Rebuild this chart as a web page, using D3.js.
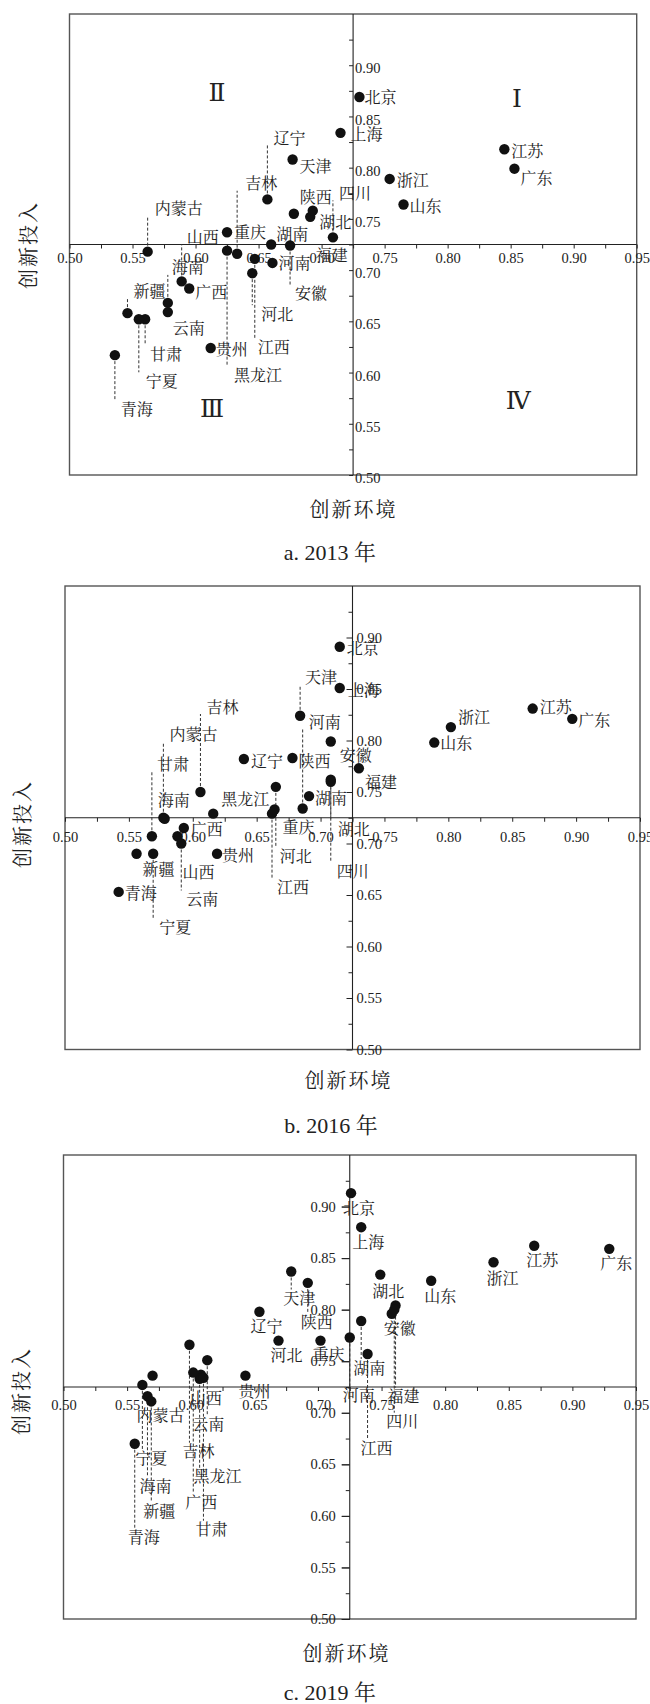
<!DOCTYPE html>
<html><head><meta charset="utf-8">
<script src="https://cdn.jsdelivr.net/npm/d3@7"></script>
<style>body{margin:0;background:#fff;}</style>
</head><body>
<svg id="chart" width="650" height="1704"></svg>
<script>
// ---------------- data ----------------
const provinces = ["北京","天津","河北","山西","内蒙古","辽宁","吉林","黑龙江","上海","江苏","浙江","安徽","福建","江西","山东","河南","湖北","湖南","广东","广西","海南","重庆","四川","贵州","云南","陕西","甘肃","青海","宁夏","新疆"];

const env2013 = [0.730,0.677,0.645,0.589,0.562,0.657,0.633,0.625,0.715,0.845,0.754,0.675,0.678,0.647,0.765,0.661,0.691,0.660,0.853,0.595,0.578,0.625,0.709,0.612,0.578,0.693,0.560,0.536,0.555,0.546];
const inp2013 = [0.869,0.808,0.697,0.689,0.718,0.769,0.716,0.719,0.834,0.818,0.789,0.724,0.755,0.711,0.764,0.707,0.752,0.725,0.799,0.682,0.668,0.737,0.732,0.624,0.659,0.758,0.652,0.617,0.652,0.658];

const env2016 = [0.715,0.684,0.665,0.588,0.577,0.640,0.606,0.616,0.715,0.866,0.802,0.708,0.730,0.662,0.789,0.686,0.708,0.691,0.897,0.593,0.578,0.664,0.708,0.619,0.591,0.678,0.568,0.542,0.569,0.556];
const inp2016 = [0.891,0.824,0.755,0.707,0.725,0.782,0.750,0.729,0.851,0.831,0.813,0.799,0.773,0.729,0.798,0.734,0.762,0.746,0.821,0.715,0.724,0.733,0.760,0.690,0.700,0.783,0.707,0.653,0.690,0.690];

const env2019 = [0.726,0.679,0.669,0.608,0.570,0.654,0.599,0.607,0.734,0.870,0.838,0.758,0.761,0.739,0.789,0.725,0.749,0.734,0.929,0.602,0.566,0.702,0.760,0.643,0.613,0.692,0.610,0.556,0.562,0.569];
const inp2019 = [0.913,0.837,0.770,0.737,0.736,0.798,0.766,0.733,0.880,0.862,0.846,0.796,0.804,0.757,0.828,0.773,0.834,0.789,0.859,0.739,0.716,0.770,0.800,0.736,0.751,0.826,0.734,0.670,0.727,0.711];

const majorTicks = [0.50,0.55,0.60,0.65,0.70,0.75,0.80,0.85,0.90,0.95];
const minorTicks = [0.525,0.575,0.625,0.675,0.725,0.775,0.825,0.875,0.925];
const yLabelTicks = [0.50,0.55,0.60,0.65,0.70,0.75,0.80,0.85,0.90];
const crossing = 0.725;
const quadrantNames = ["Ⅰ","Ⅱ","Ⅲ","Ⅳ"];
const quadrantX = [0.855,0.617,0.613,0.856];
const quadrantY = [0.868,0.873,0.565,0.573];
const captions = ["a. 2013 年","b. 2016 年","c. 2019 年"];
const xTitle = "创新环境", yTitle = "创新投入";

// ---------------- layout (label placement, px offsets from dot) ----------------
const labels2013 = {北京:[21,0],天津:[23,6],河北:[25,40,1],山西:[21,-45,1],内蒙古:[31,-44,1],辽宁:[22,-62,1],吉林:[24,-71,1],黑龙江:[31,124,1],上海:[26,1],江苏:[23,1],浙江:[23,1],安徽:[21,47,1],福建:[38,41],江西:[19,88,1],山东:[22,1],河南:[22,0],湖北:[25,5],湖南:[21,-11],广东:[22,9],广西:[22,3],海南:[20,-36,1],重庆:[23,-1],四川:[22,-45,1],贵州:[21,1],云南:[21,15],陕西:[3,-14],甘肃:[21,34,1],青海:[22,53,1],宁夏:[23,61,1],新疆:[22,-23,1]};
const labels2016 = {北京:[23,1],天津:[21,-39,1],河北:[20,69,1],山西:[21,35],内蒙古:[30,-84,1],辽宁:[23,1],吉林:[22,-86,1],黑龙江:[32,-15],上海:[24,2],江苏:[23,-2],浙江:[23,-11],安徽:[25,13],福建:[22,13],江西:[21,73,1],山东:[22,0],河南:[22,-87,1],湖北:[23,49,1],湖南:[22,1],广东:[22,1],广西:[23,0],海南:[9,-19],重庆:[24,17],四川:[22,89,1],贵州:[21,1],云南:[21,55,1],陕西:[22,2],甘肃:[21,-73,1],青海:[22,1],宁夏:[22,73,1],新疆:[22,15]};
const labels2019 = {北京:[8,14],天津:[8,26,1],河北:[8,14],山西:[5,23],内蒙古:[8,39],辽宁:[7,14],吉林:[9,106,1],黑龙江:[18,97,1],上海:[7,14],江苏:[8,14],浙江:[9,15],安徽:[8,14],福建:[8,90,1],江西:[9,93,1],山东:[9,15],河南:[9,57,1],湖北:[8,16],湖南:[8,46,1],广东:[7,14],广西:[8,129,1],海南:[8,89,1],重庆:[8,13],四川:[8,111,1],贵州:[9,15],云南:[1,63,1],陕西:[9,39,1],甘肃:[8,151,1],青海:[9,93,1],宁夏:[9,73,1],新疆:[8,109,1]};

const panels = [
  {env:env2013, inp:inp2013, labels:labels2013, left:69.5, right:636.7, top:14, bottom:475,
   xPad:4, yLabelSide:"right", yTickLen:4, yLabelDy:3, yLabelPad:2,
   xTitle:[353.5,508], yTitle:[27,245], caption:[330,552], quad:true},
  {env:env2016, inp:inp2016, labels:labels2016, left:65, right:640, top:586, bottom:1049.5,
   xPad:10, yLabelSide:"right", yTickLen:6, yLabelDy:0, yLabelPad:4,
   xTitle:[348.5,1079], yTitle:[21,824], caption:[331,1125], quad:false},
  {env:env2019, inp:inp2019, labels:labels2019, left:63.5, right:636, top:1155, bottom:1619,
   xPad:9, yLabelSide:"left", yTickLen:8, yLabelDy:0, yLabelPad:6,
   xTitle:[346.5,1652], yTitle:[20,1391], caption:[330,1692], quad:false}
];

const svg = d3.select("#chart");
const serif = "'Liberation Serif','Times New Roman',serif";
const cjk = "'Noto Serif CJK SC','Noto Sans CJK SC',sans-serif";

panels.forEach((p, pi) => {
  const g = svg.append("g");
  const X = d3.scaleLinear().domain([0.5,0.95]).range([p.left,p.right]);
  const Y = d3.scaleLinear().domain([0.5,0.95]).range([p.bottom,p.top]);
  const cx = X(crossing), cy = Y(crossing);

  g.append("rect").attr("x",p.left).attr("y",p.top)
   .attr("width",p.right-p.left).attr("height",p.bottom-p.top)
   .attr("fill","none").attr("stroke","#555").attr("stroke-width",1.4);

  const xMinor = g.append("g").attr("transform",`translate(0,${cy})`)
    .call(d3.axisBottom(X).tickValues(minorTicks).tickSize(4).tickFormat(""));
  const xMajor = g.append("g").attr("transform",`translate(0,${cy})`)
    .call(d3.axisBottom(X).tickValues(majorTicks).tickSize(4).tickPadding(p.xPad).tickFormat(d3.format(".2f")));
  [xMinor,xMajor].forEach(a => { a.select(".domain").remove(); a.selectAll("line").attr("stroke","#222"); });
  xMajor.selectAll("text").attr("font-family",serif).attr("font-size",14.5).attr("fill","#222");
  g.append("line").attr("x1",p.left).attr("x2",p.right).attr("y1",cy).attr("y2",cy)
   .attr("stroke","#222").attr("stroke-width",1.1);

  const yMinor = g.append("g").attr("transform",`translate(${cx},0)`)
    .call(d3.axisLeft(Y).tickValues(minorTicks).tickSize(4).tickFormat(""));
  const yMajorTicks = g.append("g").attr("transform",`translate(${cx},0)`)
    .call(d3.axisLeft(Y).tickValues(yLabelTicks).tickSize(p.yTickLen).tickFormat(""));
  let yLab;
  if (p.yLabelSide === "right") {
    yLab = g.append("g").attr("transform",`translate(${cx},${p.yLabelDy})`)
      .call(d3.axisRight(Y).tickValues(yLabelTicks).tickSize(0).tickPadding(p.yLabelPad).tickFormat(d3.format(".2f")));
  } else {
    yLab = g.append("g").attr("transform",`translate(${cx},${p.yLabelDy})`)
      .call(d3.axisLeft(Y).tickValues(yLabelTicks).tickSize(p.yTickLen).tickPadding(p.yLabelPad).tickFormat(d3.format(".2f")));
  }
  [yMinor,yMajorTicks,yLab].forEach(a => { a.select(".domain").remove(); a.selectAll("line").attr("stroke","#222"); });
  yLab.selectAll("text").attr("font-family",serif).attr("font-size",14.5).attr("fill","#222");
  g.append("line").attr("x1",cx).attr("x2",cx).attr("y1",p.top).attr("y2",p.bottom)
   .attr("stroke","#222").attr("stroke-width",1.1);

  const data = provinces.map((n,i) => ({name:n, x:p.env[i], y:p.inp[i], lab:p.labels[n]}));

  g.selectAll(".lead").data(data.filter(d => d.lab[2])).join("line")
    .attr("x1",d => X(d.x)).attr("x2",d => X(d.x))
    .attr("y1",d => Y(d.y) + Math.sign(d.lab[1])*6)
    .attr("y2",d => Y(d.y) + d.lab[1] - Math.sign(d.lab[1])*8)
    .attr("stroke","#333").attr("stroke-width",1).attr("stroke-dasharray","3,2");

  g.selectAll(".lbl").data(data).join("text")
    .attr("x",d => X(d.x) + d.lab[0]).attr("y",d => Y(d.y) + d.lab[1])
    .attr("text-anchor","middle").attr("dominant-baseline","central")
    .attr("font-family",cjk).attr("font-size",16).attr("fill","#222")
    .text(d => d.name);

  g.selectAll(".dot").data(data).join("circle")
    .attr("cx",d => X(d.x)).attr("cy",d => Y(d.y)).attr("r",5.2).attr("fill","#111");

  if (p.quad) {
    g.selectAll(".quad").data(quadrantNames).join("text")
      .attr("x",(d,i) => X(quadrantX[i])).attr("y",(d,i) => Y(quadrantY[i]))
      .attr("text-anchor","middle").attr("dominant-baseline","central")
      .attr("font-family","'DejaVu Serif',serif").attr("font-size",25).attr("fill","#222")
      .text(d => d);
  }

  g.append("text").attr("x",p.xTitle[0]).attr("y",p.xTitle[1])
    .attr("text-anchor","middle").attr("dominant-baseline","central")
    .attr("font-family",cjk).attr("font-size",20).attr("letter-spacing",2).attr("fill","#222")
    .text(xTitle);
  g.append("text").attr("transform",`translate(${p.yTitle[0]},${p.yTitle[1]}) rotate(-90)`)
    .attr("text-anchor","middle").attr("dominant-baseline","central")
    .attr("font-family",cjk).attr("font-size",20).attr("letter-spacing",2).attr("fill","#222")
    .text(yTitle);
  g.append("text").attr("x",p.caption[0]).attr("y",p.caption[1])
    .attr("text-anchor","middle").attr("dominant-baseline","central")
    .attr("font-family","'Liberation Serif','Noto Serif CJK SC','Noto Sans CJK SC',serif").attr("font-size",22).attr("fill","#222")
    .text(captions[pi]);
});
</script>
</body></html>
